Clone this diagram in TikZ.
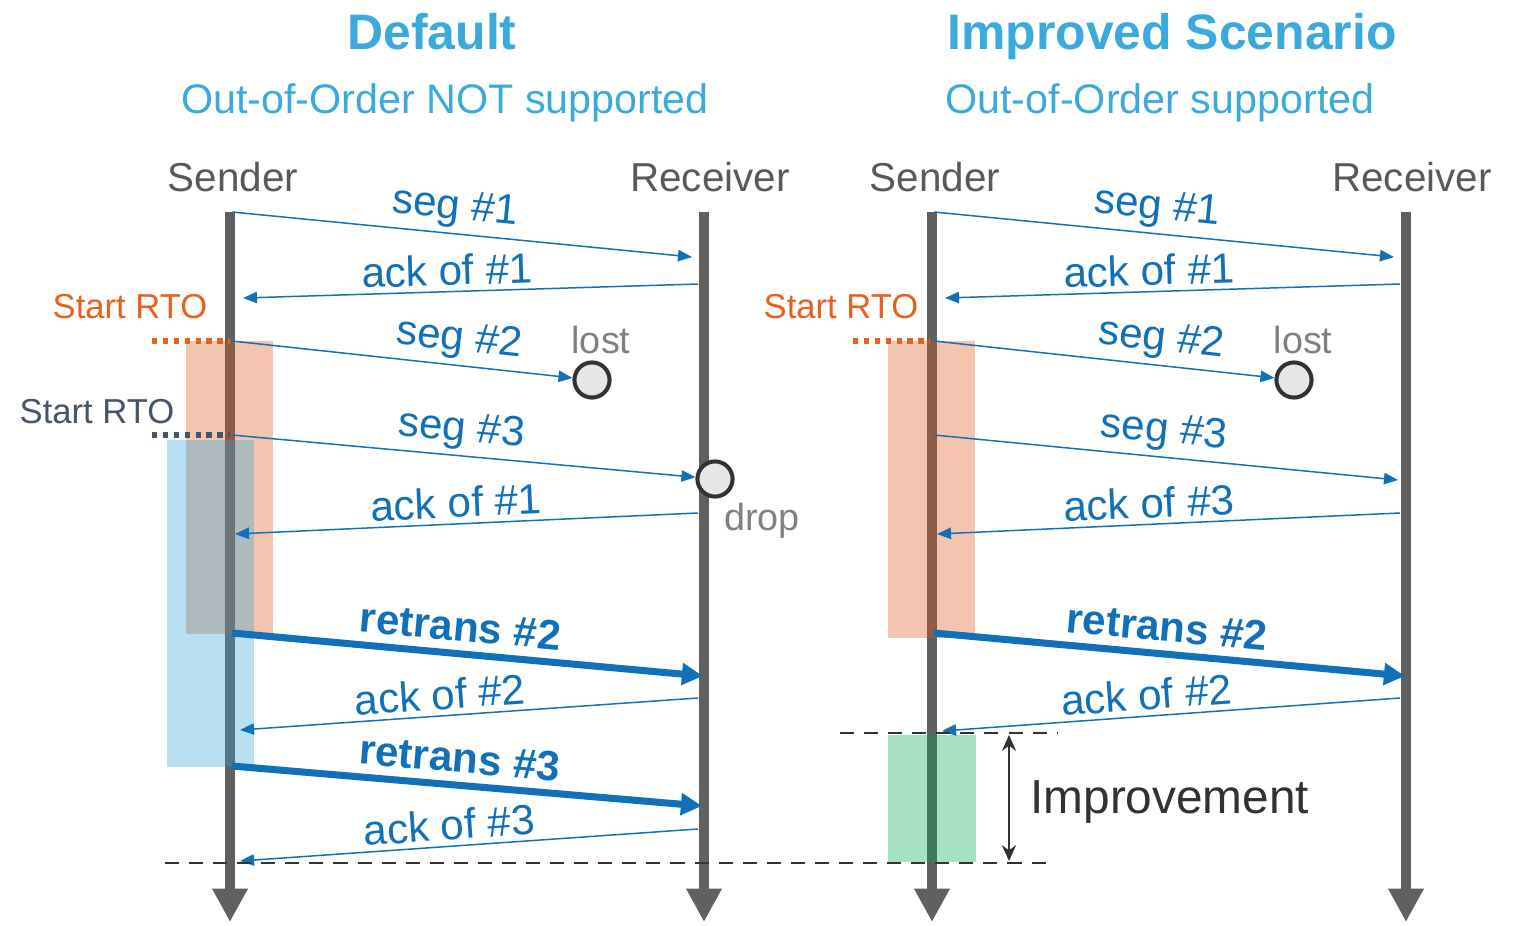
\documentclass[tikz,border=0pt]{standalone}
\usepackage{fontspec}
\setmainfont{Liberation Sans}
\definecolor{ttlblue}{RGB}{58,170,220}
\definecolor{msgblue}{RGB}{16,112,184}
\definecolor{rtoorange}{RGB}{232,96,28}
\definecolor{rtoslate}{RGB}{68,84,106}
\definecolor{namegray}{RGB}{89,89,89}
\definecolor{lostgray}{RGB}{128,128,128}
\definecolor{lifegray}{RGB}{96,96,96}
\definecolor{linedark}{RGB}{50,50,50}
\definecolor{pktfill}{RGB}{230,230,230}
\definecolor{boxorange}{RGB}{221,89,26}
\definecolor{boxblue}{RGB}{50,165,218}
\definecolor{boxgreen}{RGB}{0,170,82}
\usetikzlibrary{arrows.meta}
\newcommand{\fsz}[1]{\fontsize{#1}{#1}\selectfont}

\begin{document}
\begin{tikzpicture}[x=0.02cm,y=-0.02cm,
  title/.style={font=\fsz{28.4}\bfseries,text=ttlblue,anchor=base},
  subtitle/.style={font=\fsz{23.5},text=ttlblue,anchor=base},
  actor/.style={font=\fsz{23},text=namegray,anchor=base},
  life/.style={draw=lifegray,line width=5.7pt,-{Triangle[length=19pt,width=19pt]}},
  msg/.style={draw=msgblue,line width=0.85pt,-{Triangle[length=8pt,width=6.5pt]}},
  retx/.style={draw=msgblue,line width=4pt,-{Triangle[length=12pt,width=12pt]}},
  lbl/.style={font=\fsz{24},text=msgblue,sloped,above,inner sep=3pt},
  blbl/.style={lbl,font=\fsz{24}\bfseries,inner sep=5pt},
  pkt/.style={circle,draw=linedark,line width=2.3pt,fill=pktfill,minimum size=20pt,inner sep=0pt},
  note/.style={font=\fsz{21.5},text=lostgray,anchor=base},
  rto/.style={font=\fsz{19.7},anchor=base},
  rtodots/.style={line width=3pt,dash pattern=on 3pt off 3.2pt},
  shade/.style={fill=#1,fill opacity=0.35,draw=none},
  cut/.style={draw=linedark,line width=1.2pt,dash pattern=on 8pt off 5.7pt},
  gap/.style={draw=linedark,line width=1.6pt,{Stealth[length=9pt,width=8pt]}-{Stealth[length=9pt,width=8pt]}},
]
\useasboundingbox (0,0) rectangle (1519,926);

%% Titles
\node[title] (ttlA) at (432,50) {Default};
\node[subtitle] (subA) at (445,113) {Out-of-Order NOT supported};
\node[title] (ttlB) at (1172,50) {Improved Scenario};
\node[subtitle] (subB) at (1160,113) {Out-of-Order supported};

%% Actors and lifelines
\node[actor] (sndA) at (233,192) {Sender};
\node[actor] (rcvA) at (710,192) {Receiver};
\node[actor] (sndB) at (935,192) {Sender};
\node[actor] (rcvB) at (1412,192) {Receiver};
\foreach \s/\x in {sA/230,rA/704,sB/932,rB/1406}
  {\coordinate (\s-top) at (\x,212); \coordinate (\s-bot) at (\x,922);}
\draw[life] (sA-top) -- (sA-bot);
\draw[life] (rA-top) -- (rA-bot);
\draw[life] (sB-top) -- (sB-bot);
\draw[life] (rB-top) -- (rB-bot);

%% RTO windows
\fill[shade=boxorange] (186,341) rectangle (273,634);
\fill[shade=boxblue] (167,440) rectangle (254,767);
\fill[shade=boxorange] (888,341) rectangle (975,638);
\fill[shade=boxgreen] (888,735) rectangle (976,862);

\node[rto,text=rtoorange] (rtoA1) at (130,318) {Start RTO};
\node[rto,text=rtoslate] (rtoA2) at (97,423) {Start RTO};
\node[rto,text=rtoorange] (rtoB) at (841,318) {Start RTO};
\coordinate (dA1) at (152,341); \coordinate (dA2) at (152,435);
\coordinate (dB1) at (853,341);
\draw[rtodots,draw=rtoorange] (dA1) -- (230,341);
\draw[rtodots,draw=rtoslate] (dA2) -- (230,435);
\draw[rtodots,draw=rtoorange] (dB1) -- (930,341);

%% Lost / dropped packets
\node[pkt] (lostA) at (592,380) {};
\node[pkt] (dropA) at (715,479) {};
\node[pkt] (lostB) at (1294,380) {};
\node[note] (lostAt) at (601,353) {lost};
\node[note] (dropAt) at (762,530) {drop};
\node[note] (lostBt) at (1303,353) {lost};

%% Panel 1: Default
\foreach \n/\xa/\ya/\xb/\yb in {1/232/212/692/257, 2/698/284/243/298,
    3/232/341/572/377, 4/232/435/696/480, 5/698/513/235/534,
    6/232/633/703/676, 7/698/698/240/730, 8/232/766/702/806,
    9/698/829/240/861}
  {\coordinate (A\n-a) at (\xa,\ya); \coordinate (A\n-b) at (\xb,\yb);}
\draw[msg] (A1-a) -- (A1-b) node[lbl,pos=.48] {seg \#1};
\draw[msg] (A2-a) -- (A2-b) node[lbl,pos=.55] {ack of \#1};
\draw[msg] (A3-a) -- (lostA) node[lbl,pos=.66] {seg \#2};
\draw[msg] (A4-a) -- (dropA) node[lbl,pos=.49] {seg \#3};
\draw[msg] (A5-a) -- (A5-b) node[lbl,pos=.52] {ack of \#1};
\draw[retx] (A6-a) -- (A6-b) node[blbl,pos=.48] {retrans \#2};
\draw[msg] (A7-a) -- (A7-b) node[lbl,pos=.56] {ack of \#2};
\draw[retx] (A8-a) -- (A8-b) node[blbl,pos=.48] {retrans \#3};
\draw[msg] (A9-a) -- (A9-b) node[lbl,pos=.54] {ack of \#3};

%% Panel 2: Improved
\foreach \n/\xa/\ya/\xb/\yb in {1/934/212/1394/257, 2/1400/284/945/298,
    3/934/341/1274/377, 4/934/435/1398/480, 5/1400/513/937/534,
    6/934/633/1405/676, 7/1400/698/942/731}
  {\coordinate (B\n-a) at (\xa,\ya); \coordinate (B\n-b) at (\xb,\yb);}
\draw[msg] (B1-a) -- (B1-b) node[lbl,pos=.48] {seg \#1};
\draw[msg] (B2-a) -- (B2-b) node[lbl,pos=.55] {ack of \#1};
\draw[msg] (B3-a) -- (lostB) node[lbl,pos=.66] {seg \#2};
\draw[msg] (B4-a) -- (B4-b) node[lbl,pos=.49] {seg \#3};
\draw[msg] (B5-a) -- (B5-b) node[lbl,pos=.54] {ack of \#3};
\draw[retx] (B6-a) -- (B6-b) node[blbl,pos=.49] {retrans \#2};
\draw[msg] (B7-a) -- (B7-b) node[lbl,pos=.55] {ack of \#2};

%% Improvement
\coordinate (cutL) at (165,863); \coordinate (cutR) at (1055,863);
\coordinate (topL) at (840,733); \coordinate (topR) at (1057,733);
\coordinate (impT) at (1009,735); \coordinate (impB) at (1009,861);
\draw[cut] (cutL) -- (cutR);
\draw[cut] (topL) -- (topR);
\draw[gap] (impT) -- (impB);
\node[font=\fsz{27.2},text=linedark,anchor=base west,inner sep=0pt] (impr) at (1030,813) {Improvement};
\end{tikzpicture}
\end{document}
